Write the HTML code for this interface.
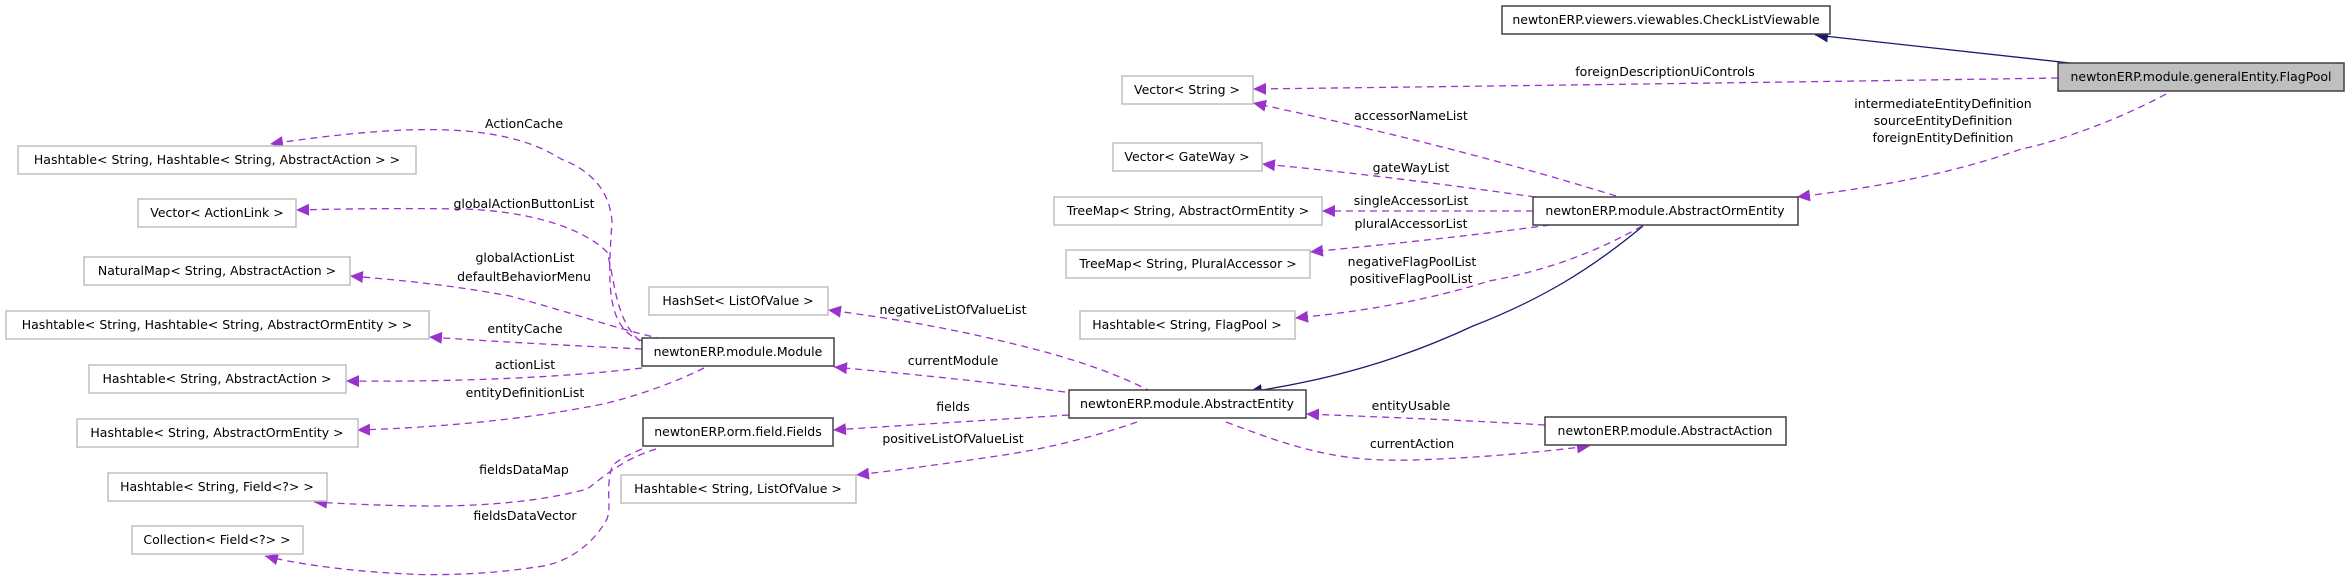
<!DOCTYPE html>
<html><head><meta charset="utf-8"><style>
html,body{margin:0;padding:0;background:#fff;}
svg{display:block;}
text{font-family:"DejaVu Sans","Liberation Sans",sans-serif;font-size:12.5px;fill:#000;}
.g{fill:#fff;stroke:#bfbfbf;stroke-width:1.5;}
.d{fill:#fff;stroke:#404040;stroke-width:1.5;}
.p{fill:none;stroke:#9a32cd;stroke-width:1.3;stroke-dasharray:7,5;}
.n{fill:none;stroke:#191970;stroke-width:1.3;}
</style></head><body>
<svg width="2347" height="576" viewBox="0 0 2347 576" xmlns="http://www.w3.org/2000/svg">
<defs>
<marker id="ap" markerUnits="userSpaceOnUse" markerWidth="14" markerHeight="12" refX="13" refY="6" orient="auto"><path d="M0,0 L13,6 L0,12 z" fill="#9a32cd"/></marker>
<marker id="an" markerUnits="userSpaceOnUse" markerWidth="14" markerHeight="12" refX="13" refY="6" orient="auto"><path d="M0,0 L13,6 L0,12 z" fill="#191970"/></marker>
</defs>

<!-- edges -->
<path class="n" d="M2070,63 L1815,35" marker-end="url(#an)"/>
<path class="p" d="M2058,78 C1800,82 1500,86 1253,89" marker-end="url(#ap)"/>
<path class="p" d="M2166,94 C2100,130 2024,150 2024,148 C1950,175 1870,188 1797,197" marker-end="url(#ap)"/>
<path class="n" d="M1643,226 C1590,270 1540,300 1473,326 C1400,360 1330,380 1249,392" marker-end="url(#an)"/>
<path class="p" d="M1616,196 C1500,160 1380,130 1253,103" marker-end="url(#ap)"/>
<path class="p" d="M1535,197 C1450,185 1350,172 1262,164" marker-end="url(#ap)"/>
<path class="p" d="M1533,211 L1322,211" marker-end="url(#ap)"/>
<path class="p" d="M1550,225 C1470,236 1390,244 1310,252" marker-end="url(#ap)"/>
<path class="p" d="M1642,226 C1600,250 1550,270 1489,281 C1430,300 1360,312 1295,318" marker-end="url(#ap)"/>
<path class="p" d="M1152,392 C1110,370 1060,355 1014,344 C950,328 890,318 828,310" marker-end="url(#ap)"/>
<path class="p" d="M1065,392 C990,382 910,374 834,367" marker-end="url(#ap)"/>
<path class="p" d="M1069,415 C990,420 910,425 833,430" marker-end="url(#ap)"/>
<path class="p" d="M1137,422 C1100,435 1050,448 1004,455 C950,463 900,470 856,475" marker-end="url(#ap)"/>
<path class="p" d="M1545,425 C1460,420 1380,417 1306,414" marker-end="url(#ap)"/>
<path class="p" d="M1226,422 C1300,450 1340,462 1412,460 C1480,458 1540,452 1590,446" marker-end="url(#ap)"/>
<path class="p" d="M643,341 C605,330 608,280 612,222 C610,190 590,170 561,159 C500,120 400,125 270,144" marker-end="url(#ap)"/>
<path class="p" d="M640,341 C615,320 615,280 607,252 C580,225 520,210 460,209 C400,208 340,209 296,210" marker-end="url(#ap)"/>
<path class="p" d="M663,339 C620,330 580,315 510,296 C450,285 400,280 350,276" marker-end="url(#ap)"/>
<path class="p" d="M642,349 C580,346 500,342 429,337" marker-end="url(#ap)"/>
<path class="p" d="M642,368 C560,378 450,382 346,381" marker-end="url(#ap)"/>
<path class="p" d="M704,368 C670,385 620,402 587,407 C520,420 430,428 357,430" marker-end="url(#ap)"/>
<path class="p" d="M656,449 C620,460 600,480 587,489 C540,502 480,506 434,506 C390,506 350,504 314,502" marker-end="url(#ap)"/>
<path class="p" d="M642,449 C620,458 612,465 612,467 C605,490 612,505 607,519 C590,550 560,565 536,567 C480,576 420,575 408,574 C360,572 300,565 265,556" marker-end="url(#ap)"/>

<!-- edge labels -->
<g text-anchor="middle">
<text x="1665" y="76">foreignDescriptionUiControls</text>
<text x="1943" y="108">intermediateEntityDefinition</text>
<text x="1943" y="125">sourceEntityDefinition</text>
<text x="1943" y="142">foreignEntityDefinition</text>
<text x="1411" y="120">accessorNameList</text>
<text x="1411" y="172">gateWayList</text>
<text x="1411" y="205">singleAccessorList</text>
<text x="1411" y="228">pluralAccessorList</text>
<text x="1412" y="266">negativeFlagPoolList</text>
<text x="1411" y="283">positiveFlagPoolList</text>
<text x="953" y="314">negativeListOfValueList</text>
<text x="953" y="365">currentModule</text>
<text x="953" y="411">fields</text>
<text x="953" y="443">positiveListOfValueList</text>
<text x="1411" y="410">entityUsable</text>
<text x="1412" y="448">currentAction</text>
<text x="524" y="128">ActionCache</text>
<text x="524" y="208">globalActionButtonList</text>
<text x="525" y="262">globalActionList</text>
<text x="524" y="281">defaultBehaviorMenu</text>
<text x="525" y="333">entityCache</text>
<text x="525" y="369">actionList</text>
<text x="525" y="397">entityDefinitionList</text>
<text x="524" y="474">fieldsDataMap</text>
<text x="525" y="520">fieldsDataVector</text>
</g>

<!-- nodes -->
<rect class="d" x="1502" y="6" width="328" height="28"/>
<rect x="2058" y="63" width="286" height="28" fill="#bfbfbf" stroke="#404040" stroke-width="1.5"/>
<rect class="g" x="1122" y="76" width="131" height="28"/>
<rect class="g" x="18" y="146" width="398" height="28"/>
<rect class="g" x="1113" y="143" width="149" height="28"/>
<rect class="g" x="138" y="199" width="158" height="28"/>
<rect class="g" x="1054" y="197" width="268" height="28"/>
<rect class="d" x="1533" y="197" width="265" height="28"/>
<rect class="g" x="1066" y="250" width="244" height="28"/>
<rect class="g" x="84" y="257" width="266" height="28"/>
<rect class="g" x="649" y="287" width="179" height="28"/>
<rect class="g" x="6" y="311" width="423" height="28"/>
<rect class="g" x="1080" y="311" width="215" height="28"/>
<rect class="d" x="642" y="338" width="192" height="28"/>
<rect class="g" x="89" y="365" width="257" height="28"/>
<rect class="d" x="1069" y="390" width="237" height="28"/>
<rect class="d" x="1545" y="417" width="241" height="28"/>
<rect class="g" x="77" y="419" width="281" height="28"/>
<rect class="d" x="643" y="418" width="190" height="28"/>
<rect class="g" x="621" y="475" width="235" height="28"/>
<rect class="g" x="108" y="473" width="219" height="28"/>
<rect class="g" x="132" y="526" width="171" height="28"/>

<g text-anchor="middle">
<text x="1666" y="24">newtonERP.viewers.viewables.CheckListViewable</text>
<text x="2201" y="81" textLength="261" lengthAdjust="spacingAndGlyphs">newtonERP.module.generalEntity.FlagPool</text>
<text x="1187" y="94">Vector&lt; String &gt;</text>
<text x="217" y="164">Hashtable&lt; String, Hashtable&lt; String, AbstractAction &gt; &gt;</text>
<text x="1187" y="161">Vector&lt; GateWay &gt;</text>
<text x="217" y="217">Vector&lt; ActionLink &gt;</text>
<text x="1188" y="215">TreeMap&lt; String, AbstractOrmEntity &gt;</text>
<text x="1665" y="215">newtonERP.module.AbstractOrmEntity</text>
<text x="1188" y="268">TreeMap&lt; String, PluralAccessor &gt;</text>
<text x="217" y="275">NaturalMap&lt; String, AbstractAction &gt;</text>
<text x="738" y="305">HashSet&lt; ListOfValue &gt;</text>
<text x="217" y="329">Hashtable&lt; String, Hashtable&lt; String, AbstractOrmEntity &gt; &gt;</text>
<text x="1187" y="329">Hashtable&lt; String, FlagPool &gt;</text>
<text x="738" y="356">newtonERP.module.Module</text>
<text x="217" y="383">Hashtable&lt; String, AbstractAction &gt;</text>
<text x="1187" y="408" textLength="214" lengthAdjust="spacingAndGlyphs">newtonERP.module.AbstractEntity</text>
<text x="1665" y="435">newtonERP.module.AbstractAction</text>
<text x="217" y="437">Hashtable&lt; String, AbstractOrmEntity &gt;</text>
<text x="738" y="436">newtonERP.orm.field.Fields</text>
<text x="738" y="493">Hashtable&lt; String, ListOfValue &gt;</text>
<text x="217" y="491">Hashtable&lt; String, Field&lt;?&gt; &gt;</text>
<text x="217" y="544">Collection&lt; Field&lt;?&gt; &gt;</text>
</g>
</svg>
</body></html>
